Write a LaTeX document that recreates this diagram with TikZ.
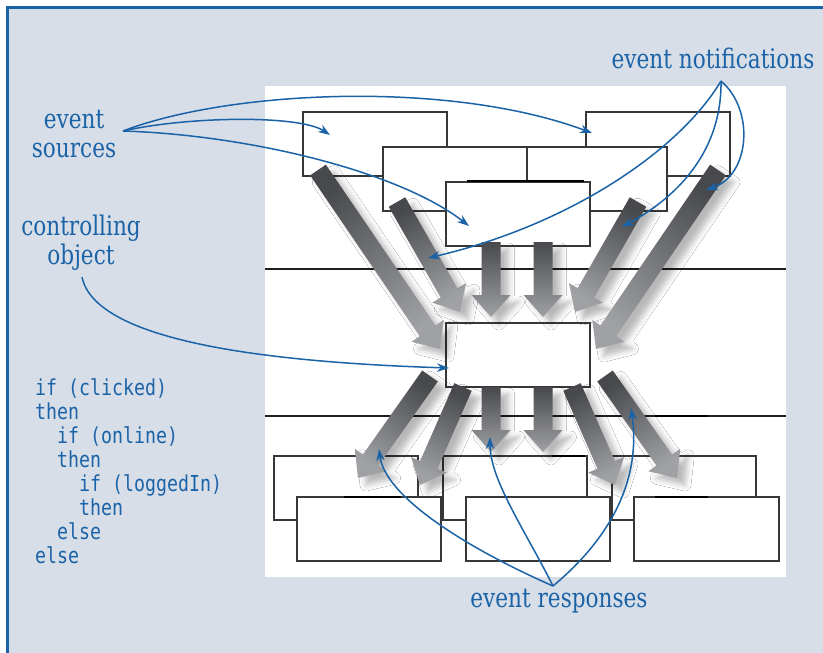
\documentclass[tikz,border=0pt]{standalone}
\usepackage{fontspec}
\usepackage{tikz}
\usetikzlibrary{arrows.meta, positioning, calc, shadows.blur}
\newfontfamily\labelfont[FakeStretch=0.8]{DejaVu Serif}
\newfontfamily\codefont[FakeStretch=0.83]{DejaVu Sans Mono}
\definecolor{annblue}{RGB}{27,99,167}
\definecolor{framebg}{RGB}{215,222,232}
\definecolor{boxline}{RGB}{55,55,55}
\definecolor{arrdark}{RGB}{72,73,77}
\definecolor{arrlight}{RGB}{160,161,165}

\tikzset{
  winbox/.style={draw=boxline, line width=1.2pt, fill=white, minimum width=144pt,
    minimum height=64pt, inner sep=0pt},
  bigarr/.style={top color=arrdark, bottom color=arrlight,
    blur shadow={shadow xshift=8pt, shadow yshift=-7pt, shadow blur radius=6pt, shadow opacity=28}},
  note/.style={font=\labelfont\fontsize{27}{29}\selectfont, text=annblue, align=center, inner sep=0pt},
  code/.style={font=\codefont\fontsize{22}{24}\selectfont, text=annblue, align=left, inner sep=0pt},
  pointer/.style={draw=annblue, line width=1.5pt, -{Stealth[length=12pt, width=8.5pt]}},
  divider/.style={draw=black!88, line width=2pt},
}

% thick grey block arrow: tail, tip, shading angle
\newcommand{\bigarrow}[3]{%
  \coordinate (hb) at ($(#2)!22pt!(#1)$);
  \path[bigarr, shading angle=#3]
    ($(#1)!9.5pt!90:(#2)$) -- ($(hb)!9.5pt!90:(#2)$) -- ($(hb)!19.5pt!90:(#2)$)
    -- (#2) -- ($(hb)!19.5pt!-90:(#2)$) -- ($(hb)!9.5pt!-90:(#2)$)
    -- ($(#1)!9.5pt!-90:(#2)$) -- cycle;
}
\newcommand{\codeindent}{\phantom{xx}}

\begin{document}
\begin{tikzpicture}[x=1pt, y=-1pt]
  \useasboundingbox (0,0) rectangle (823,653);
  % frame
  \fill[white] (0,0) rectangle (823,653);
  \fill[framebg] (7,7) rectangle (823,653);
  \draw[annblue, line width=3pt] (7,653) -- (7,7) -- (823,7);
  \fill[white] (265,86) rectangle (786,577);
  \draw[divider] (265,269) -- (786,269);
  \draw[divider] (265,416) -- (786,416);

  % windows sending events
  \node[winbox] (srcA) at (375,144) {};
  \node[winbox] (srcD) at (658,144) {};
  \node[winbox] (srcB) at (455,179) {};
  \node[winbox, minimum width=140pt] (srcC) at (597,179) {};
  \node[winbox] (srcE) at (518,214) {};
  % controlling object
  \node[winbox] (ctrl) at (518,355) {};
  % windows receiving responses
  \node[winbox] (rspA) at (346,488) {};
  \node[winbox] (rspB) at (515,488) {};
  \node[winbox] (rspC) at (684,488) {};
  \node[winbox] (rspD) at (369,529) {};
  \node[winbox] (rspE) at (538,529) {};
  \node[winbox, minimum width=145pt] (rspF) at (706.5,529) {};
  \draw[line width=2.4pt] (467,181) -- (584,181);
  \draw[line width=2.4pt] (552,456) -- (585,456);
  \draw[line width=2.4pt] (344,497) -- (401,497);
  \draw[line width=2.4pt] (655,497) -- (708,497);
  \draw[line width=2.6pt] (655,416) -- (708,416);

  % block arrows in
  \coordinate (in1t) at (318,170); \coordinate (in1h) at (440,349);
  \coordinate (in2t) at (397,202); \coordinate (in2h) at (460,312);
  \coordinate (in3t) at (491,242); \coordinate (in3h) at (491,317);
  \coordinate (in4t) at (543,242); \coordinate (in4h) at (543,317);
  \coordinate (in5t) at (638,202); \coordinate (in5h) at (575,312);
  \coordinate (in6t) at (718,170); \coordinate (in6h) at (596,349);
  \bigarrow{in1t}{in1h}{34.3}
  \bigarrow{in2t}{in2h}{29.8}
  \bigarrow{in3t}{in3h}{0}
  \bigarrow{in4t}{in4h}{0}
  \bigarrow{in5t}{in5h}{-29.8}
  \bigarrow{in6t}{in6h}{-34.3}
  % block arrows out
  \coordinate (out1t) at (430,376); \coordinate (out1h) at (358,478);
  \coordinate (out2t) at (463,387); \coordinate (out2h) at (420,485);
  \coordinate (out3t) at (491,387); \coordinate (out3h) at (491,452);
  \coordinate (out4t) at (543,387); \coordinate (out4h) at (543,452);
  \coordinate (out5t) at (572,387); \coordinate (out5h) at (615,485);
  \coordinate (out6t) at (605,376); \coordinate (out6h) at (677,478);
  \bigarrow{out1t}{out1h}{-35.2}
  \bigarrow{out2t}{out2h}{-23.7}
  \bigarrow{out3t}{out3h}{0}
  \bigarrow{out4t}{out4h}{0}
  \bigarrow{out5t}{out5h}{23.7}
  \bigarrow{out6t}{out6h}{35.2}

  % labels
  \node[note] (sources) at (74,134) {event\\sources};
  \node[note] (ctrlobj) at (81,243) {controlling\\object};
  \node[note, anchor=base] (notif) at (713,68) {event notifications};
  \node[note, anchor=base] (resp) at (559,607) {event responses};
  \node[code, anchor=north west] (cond) at (35,378)
    {if (clicked)\\then\\\codeindent if (online)\\\codeindent then\\
     \codeindent\codeindent if (loggedIn)\\\codeindent\codeindent then\\
     \codeindent else\\else};

  % pointers
  \coordinate (es) at (123,131);
  \coordinate (esA) at (330,135);
  \coordinate (esD) at (592,133);
  \coordinate (esE) at (469,226);
  \draw[pointer] (es) .. controls (190,116) and (300,115) .. (esA);
  \draw[pointer] (es) .. controls (230,90) and (450,80) .. (esD);
  \draw[pointer] (es) .. controls (250,135) and (400,172) .. (esE);
  \coordinate (en) at (721,81);
  \coordinate (enL) at (428,258);
  \coordinate (enM) at (622,227);
  \coordinate (enR) at (706,190);
  \draw[pointer] (en) .. controls (680,150) and (570,225) .. (enL);
  \draw[pointer] (en) .. controls (722,140) and (690,190) .. (enM);
  \draw[pointer] (en) .. controls (755,110) and (750,175) .. (enR);
  \coordinate (co) at (82,277);
  \coordinate (ctrlIn) at (449,368);
  \draw[pointer] (co) .. controls (95,340) and (260,362) .. (ctrlIn);
  \coordinate (er) at (553,586);
  \coordinate (erL) at (379,449);
  \coordinate (erM) at (490,437);
  \coordinate (erR) at (631,408);
  \draw[pointer] (er) .. controls (460,545) and (385,495) .. (erL);
  \draw[pointer] (er) .. controls (525,530) and (490,480) .. (erM);
  \draw[pointer] (er) .. controls (620,530) and (640,470) .. (erR);
\end{tikzpicture}
\end{document}
